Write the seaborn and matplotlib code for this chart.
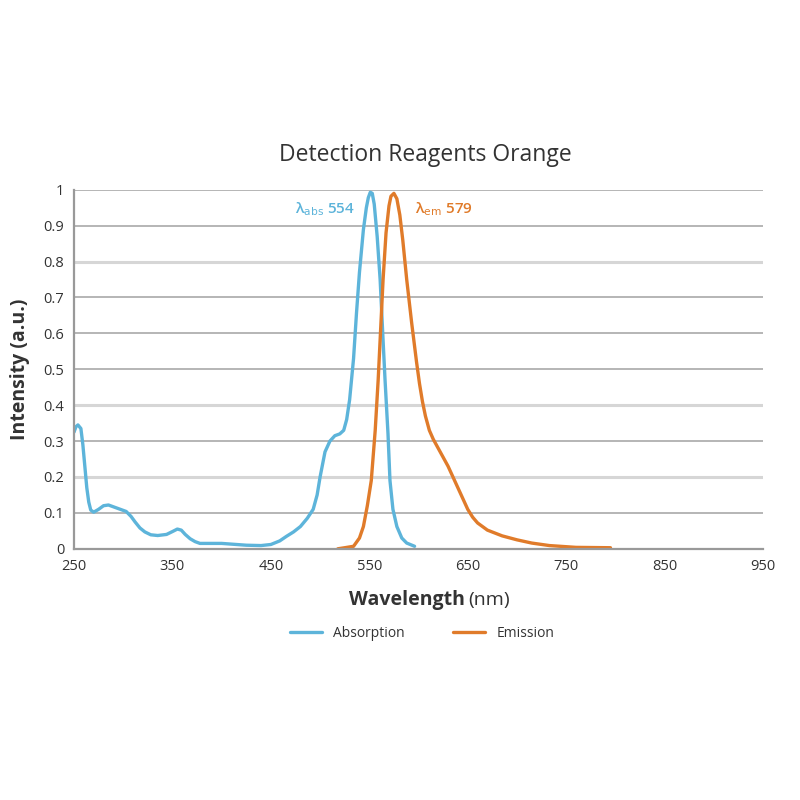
import numpy as np
import pandas as pd
import matplotlib
matplotlib.use('Agg')
import matplotlib.pyplot as plt
import seaborn as sns
from matplotlib.lines import Line2D

# Absorption spectrum
abs_wl = [250, 252, 254, 257, 259, 261, 263, 265, 267, 270, 275, 280, 285, 290, 297,
          303, 308, 312, 317, 322, 328, 335, 344, 350, 355, 359, 363, 368, 373, 378,
          390, 400, 410, 425, 440, 450, 459, 466, 473, 480, 487, 493, 497, 500, 505,
          510, 515, 520, 524, 527, 530, 534, 537, 540, 544, 547, 549, 551, 553, 555,
          558, 561, 564, 566, 569, 571, 574, 578, 583, 588, 596]
abs_int = [0.325, 0.34, 0.345, 0.335, 0.29, 0.23, 0.17, 0.13, 0.108, 0.102, 0.11, 0.12, 0.122, 0.117, 0.11,
           0.104, 0.09, 0.075, 0.058, 0.047, 0.039, 0.037, 0.04, 0.048, 0.055, 0.052, 0.04, 0.028, 0.02, 0.015,
           0.015, 0.015, 0.013, 0.01, 0.009, 0.012, 0.022, 0.035, 0.047, 0.062, 0.085, 0.11, 0.15, 0.2, 0.27,
           0.30, 0.315, 0.32, 0.33, 0.36, 0.415, 0.53, 0.657, 0.77, 0.889, 0.95, 0.978, 0.993, 0.99, 0.96,
           0.87, 0.75, 0.58, 0.47, 0.32, 0.19, 0.11, 0.062, 0.03, 0.016, 0.007]

# Emission spectrum
em_wl = [518, 525, 534, 540, 544, 548, 552, 556, 559, 564, 567, 570, 572, 575, 578,
         581, 584, 588, 593, 598, 601, 604, 607, 611, 615, 620, 625, 630, 635, 640,
         645, 650, 655, 660, 670, 685, 700, 715, 733, 760, 795]
em_int = [0.0, 0.003, 0.007, 0.03, 0.062, 0.12, 0.19, 0.33, 0.47, 0.75, 0.88, 0.955, 0.982, 0.99, 0.975,
          0.93, 0.86, 0.75, 0.63, 0.52, 0.46, 0.41, 0.37, 0.33, 0.305, 0.28, 0.255, 0.23, 0.2, 0.17,
          0.14, 0.11, 0.088, 0.072, 0.052, 0.036, 0.025, 0.016, 0.009, 0.004, 0.003]

x_ticks = [250, 350, 450, 550, 650, 750, 850, 950]
y_ticks = [0, 0.1, 0.2, 0.3, 0.4, 0.5, 0.6, 0.7, 0.8, 0.9, 1]
y_tick_labels = ['0', '0.1', '0.2', '0.3', '0.4', '0.5', '0.6', '0.7', '0.8', '0.9', '1']

abs_color = '#5db4da'
em_color = '#e07b2a'
text_color = '#333333'

sns.set_style('white')
plt.rcParams['font.family'] = ['Open Sans', 'DejaVu Sans']

fig = plt.figure(figsize=(8, 8), dpi=100)
ax = fig.add_axes([0.0925, 0.314, 0.8613, 0.4488])

sns.lineplot(x=abs_wl, y=abs_int, ax=ax, color=abs_color, linewidth=2.4, sort=False)
sns.lineplot(x=em_wl, y=em_int, ax=ax, color=em_color, linewidth=2.4, sort=False)

ax.set_xlim(250, 950)
ax.set_ylim(0, 1)
ax.set_xticks(x_ticks)
ax.set_yticks(y_ticks)
ax.set_yticklabels(y_tick_labels)
ax.tick_params(axis='both', direction='out', length=4, width=1, color='#999999',
               labelsize=10.5, labelcolor=text_color, pad=3)

# gridlines (alternating shades like the reference)
ax.grid(axis='y', zorder=0)
light = {0.2, 0.4, 0.8}
for val, gl in zip(y_ticks, ax.get_ygridlines()):
    if val in light:
        gl.set_color('#d6d6d6')
        gl.set_linewidth(2.2)
    else:
        gl.set_color('#a9a9a9')
        gl.set_linewidth(1.2)
ax.set_axisbelow(True)

for side in ['top', 'right']:
    ax.spines[side].set_visible(False)
for side in ['left', 'bottom']:
    ax.spines[side].set_color('#999999')
    ax.spines[side].set_linewidth(1.6)

# title and axis labels
ax.set_title('Detection Reagents Orange', fontsize=16.5, color=text_color, pad=21, x=0.51)
ax.set_ylabel('Intensity (a.u.)', fontsize=14, fontweight='bold', color=text_color, labelpad=10)
ax.text(0.567, -0.142, 'Wavelength', transform=ax.transAxes, ha='right', va='center',
        fontsize=14, fontweight='bold', color=text_color)
ax.text(0.572, -0.142, '(nm)', transform=ax.transAxes, ha='left', va='center',
        fontsize=14, color=text_color)

# peak annotations
ax.text(475, 0.945, r'λ$_{\rm abs}$ 554', color=abs_color, fontsize=11,
        fontweight='semibold', ha='left', va='center')
ax.text(596, 0.945, r'λ$_{\rm em}$ 579', color=em_color, fontsize=11,
        fontweight='semibold', ha='left', va='center')

handles = [Line2D([0], [0], color=abs_color, linewidth=2.4),
           Line2D([0], [0], color=em_color, linewidth=2.4)]
ax.legend(handles, ['Absorption', 'Emission'], ncol=2, frameon=False,
          loc='center', bbox_to_anchor=(0.505, -0.235), fontsize=10,
          handlelength=2.3, columnspacing=3.5, labelcolor=text_color)

fig.savefig('out.png', dpi=100)
